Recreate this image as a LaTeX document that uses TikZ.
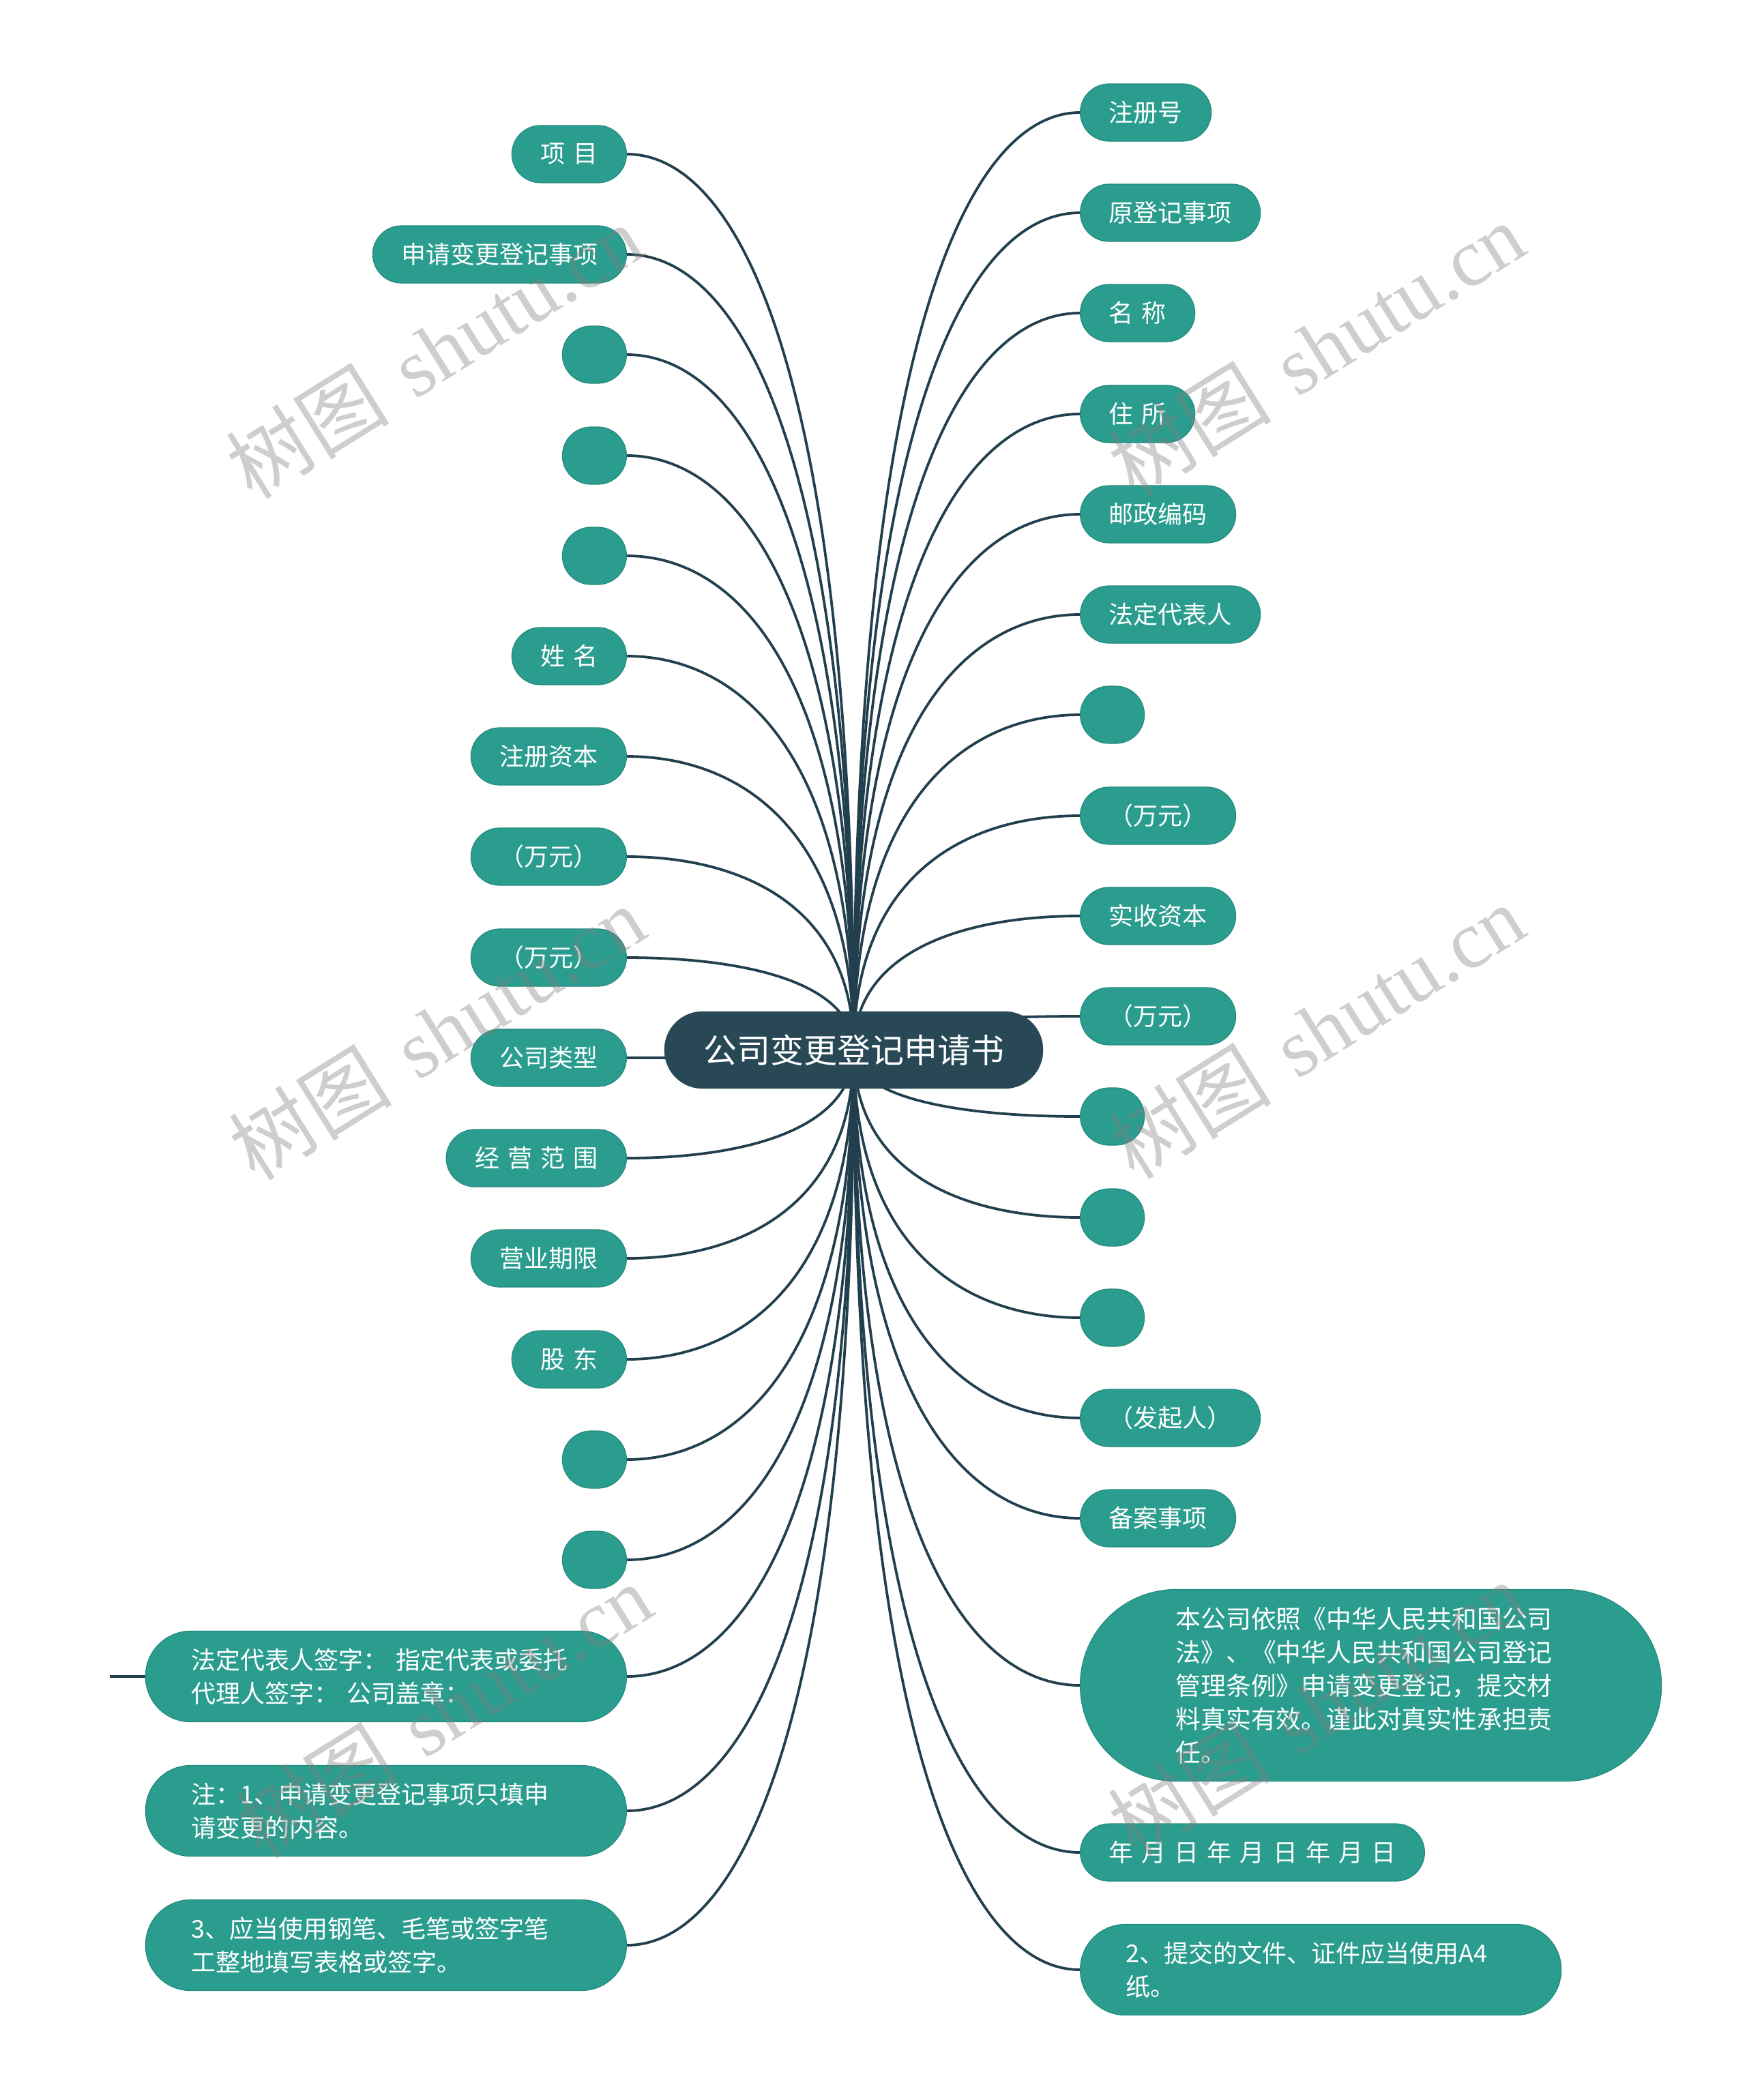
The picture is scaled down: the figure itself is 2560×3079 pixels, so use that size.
\documentclass[tikz,border=0pt]{standalone}
\usepackage{fontspec}
\setmainfont{Noto Sans CJK SC}[WordSpace=1.5]
\newfontfamily\wmserif{Liberation Serif}
\newfontfamily\wmcjk{Noto Sans CJK SC}
\usetikzlibrary{calc}
\definecolor{leaf}{HTML}{2A9D8E}
\definecolor{leafedge}{HTML}{248A7D}
\definecolor{rootc}{HTML}{284856}
\definecolor{linec}{HTML}{223F4D}
\definecolor{wmgray}{HTML}{808080}
\pgfdeclarelayer{bg}
\pgfsetlayers{bg,main}
\tikzset{
  leafnode/.style={fill=leaf, draw=leafedge, line width=1.2pt, text=white,
    font=\fontsize{36}{49}\selectfont, rounded corners=42pt,
    minimum height=84pt, minimum width=94pt, inner xsep=42pt, inner ysep=0pt},
  lnode/.style={leafnode, anchor=east},
  rnode/.style={leafnode, anchor=west},
  multinode/.style={leafnode, align=left, inner xsep=67pt, text width=571pt,
    minimum height=133pt, rounded corners=66pt},
  rootnode/.style={fill=rootc, draw=rootc, text=white,
    font=\fontsize{49}{58}\selectfont, rounded corners=56pt,
    minimum height=113pt, minimum width=555pt, inner xsep=20pt, inner ysep=0pt},
  conn/.style={draw=linec, line width=3.8pt},
  wm/.style={text=wmgray, text opacity=0.38, rotate=32, inner sep=0pt}
}
\begin{document}
\begin{tikzpicture}[x=1pt, y=-1pt]
\useasboundingbox (0,0) rectangle (2560,3079);
\begin{pgfonlayer}{bg}
  \fill[white] (0,0) rectangle (2560,3079);
\end{pgfonlayer}

% root
\node[rootnode] (root) at (1251.5,1539.5) {公司变更登记申请书};

% left branch
\node[lnode] (l1)  at (919,226)  {项 目};
\node[lnode] (l2)  at (919,373)  {申请变更登记事项};
\node[lnode] (l3)  at (919,520)  {};
\node[lnode] (l4)  at (919,668)  {};
\node[lnode] (l5)  at (919,815)  {};
\node[lnode] (l6)  at (919,962)  {姓 名};
\node[lnode] (l7)  at (919,1109) {注册资本};
\node[lnode] (l8)  at (919,1256) {（万元）};
\node[lnode] (l9)  at (919,1404) {（万元）};
\node[lnode] (l10) at (919,1551) {公司类型};
\node[lnode] (l11) at (919,1698) {经 营 范 围};
\node[lnode] (l12) at (919,1845) {营业期限};
\node[lnode] (l13) at (919,1993) {股 东};
\node[lnode] (l14) at (919,2140) {};
\node[lnode] (l15) at (919,2287) {};
\node[multinode, anchor=east] (l16) at (919,2458)
  {法定代表人签字：~指定代表或委托\\代理人签字：~公司盖章：};
\node[multinode, anchor=east] (l17) at (919,2655)
  {注：1、申请变更登记事项只填申\\请变更的内容。};
\node[multinode, anchor=east] (l18) at (919,2852)
  {3、应当使用钢笔、毛笔或签字笔\\工整地填写表格或签字。};

% right branch
\node[rnode] (r1)  at (1583,165)  {注册号};
\node[rnode] (r2)  at (1583,312)  {原登记事项};
\node[rnode] (r3)  at (1583,459)  {名 称};
\node[rnode] (r4)  at (1583,607)  {住 所};
\node[rnode] (r5)  at (1583,754)  {邮政编码};
\node[rnode] (r6)  at (1583,901)  {法定代表人};
\node[rnode] (r7)  at (1583,1048) {};
\node[rnode] (r8)  at (1583,1196) {（万元）};
\node[rnode] (r9)  at (1583,1343) {实收资本};
\node[rnode] (r10) at (1583,1490) {（万元）};
\node[rnode] (r11) at (1583,1637) {};
\node[rnode] (r12) at (1583,1785) {};
\node[rnode] (r13) at (1583,1932) {};
\node[rnode] (r14) at (1583,2079) {（发起人）};
\node[rnode] (r15) at (1583,2226) {备案事项};
\node[multinode, anchor=west, text width=572pt, inner xsep=140pt,
      minimum height=281pt, rounded corners=140pt,
      font=\fontsize{36.8}{49}\selectfont] (r16) at (1583,2471)
  {本公司依照《中华人民共和国公司\\法》、《中华人民共和国公司登记\\管理条例》申请变更登记，提交材\\料真实有效。谨此对真实性承担责\\任。};
\node[rnode, minimum width=501pt] (r17) at (1583,2716) {年 月 日 年 月 日 年 月 日};
\node[multinode, anchor=west] (r18) at (1583,2888)
  {2、提交的文件、证件应当使用A4\\纸。};

\coordinate (lfree) at (161,2458);

\begin{pgfonlayer}{bg}
  \foreach \n in {l1,l2,l3,l4,l5,l6,l7,l8,l9,l10,l11,l12,l13,l14,l15,l16,l17,l18}{
    \draw[conn] (root.center) .. controls ($(root.center)!0.75!(root.center |- \n.east)$)
      and ($(\n.east)!0.5!(\n.east -| root.center)$) .. (\n.east);
  }
  \foreach \n in {r1,r2,r3,r4,r5,r6,r7,r8,r9,r10,r11,r12,r13,r14,r15,r16,r17,r18}{
    \draw[conn] (root.center) .. controls ($(root.center)!0.75!(root.center |- \n.west)$)
      and ($(\n.west)!0.5!(\n.west -| root.center)$) .. (\n.west);
  }
  \draw[conn] (lfree) -- (l16.west);
\end{pgfonlayer}

% watermarks
\foreach \wx/\wy/\k in {636/515/1, 1929/512/2, 640/1514/3, 1929/1512/4, 650/2508/5, 1929/2505/6}{
  \node[wm] (wm\k) at (\wx,\wy) {\fontsize{120}{130}\selectfont{\wmcjk 树图} {\wmserif shutu.cn}};
}
\end{tikzpicture}
\end{document}
